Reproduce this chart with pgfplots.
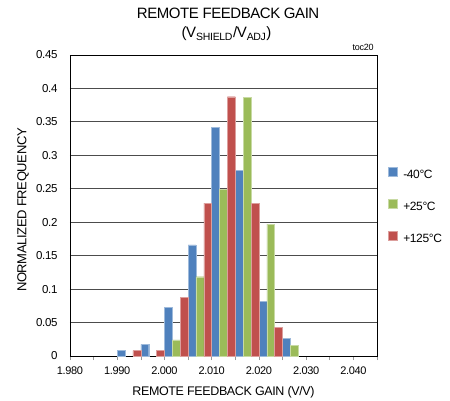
\documentclass[border=0pt]{standalone}
\usepackage{fontspec}
\setmainfont{Liberation Sans}[LetterSpace=-3]
\usepackage{pgfplots}
\pgfplotsset{compat=1.18}
\definecolor{cblue}{HTML}{4F81BD}
\definecolor{cgreen}{HTML}{9BBB59}
\definecolor{cred}{HTML}{C0504D}
\begin{document}
\begin{tikzpicture}
\useasboundingbox (-70pt,-44pt) rectangle (380pt,356pt);
\begin{axis}[
  at={(0pt,0pt)}, anchor=south west,
  scale only axis, width=307pt, height=301pt,
  xmin=0, xmax=13, ymin=0, ymax=0.45,
  axis line style={black, line width=0.9pt},
  xtick={0,...,13},
  xticklabels={1.980,,1.990,,2.000,,2.010,,2.020,,2.030,,2.040,},
  x tick label style={font=\fontsize{11}{13}\selectfont, yshift=-3pt},
  xtick pos=bottom, tick align=outside,
  x tick style={gray!80, line width=0.6pt},
  major tick length=4pt,
  ytick={0,0.05,...,0.45},
  y tick style={draw=none},
  y tick label style={/pgf/number format/fixed, /pgf/number format/precision=2, /pgf/number format/assume math mode=true, font=\fontsize{11.5}{13}\selectfont, xshift=-5pt},
  ymajorgrids,
  major grid style={gray!60!black, line width=0.8pt},
  xlabel={REMOTE FEEDBACK GAIN (V/V)},
  xlabel style={font=\fontsize{12.5}{14}\selectfont, at={(axis description cs:0.5,0)}, anchor=north, yshift=-27pt},
  ylabel={NORMALIZED FREQUENCY},
  ylabel style={font=\fontsize{13}{15}\selectfont, at={(axis description cs:-0.153,0.485)}, anchor=center},
  legend style={draw=none, fill=none, at={(axis description cs:1.025,0.635)}, anchor=north west,
    font=\fontsize{12}{14}\selectfont, row sep=17pt, cells={anchor=west},
    /tikz/every odd column/.append style={column sep=4pt}},
  legend image code/.code={\fill[#1] (0pt,-1pt) rectangle (9pt,8pt);},
  clip=false,
]
\addplot[ybar, bar width=0.3333, bar shift=0pt, fill=cblue, draw=cblue!55!white, line width=0.4pt]
  coordinates {(2.1667,0.0085) (3.1667,0.0175) (4.1667,0.0728) (5.1667,0.1660) (6.1667,0.3416) (7.1667,0.2772) (8.1667,0.0817) (9.1667,0.0266)};
\addlegendentry{-40°C}
\addplot[ybar, bar width=0.3333, bar shift=0pt, fill=cgreen, draw=cgreen!55!white, line width=0.4pt]
  coordinates {(4.5,0.0240) (5.5,0.1185) (6.5,0.2490) (7.5,0.3870) (8.5,0.1970) (9.5,0.0162)};
\addlegendentry{+25°C}
\addplot[ybar, bar width=0.3333, bar shift=0pt, fill=cred, draw=cred!55!white, line width=0.4pt]
  coordinates {(2.8333,0.0080) (3.8333,0.0084) (4.8333,0.0876) (5.8333,0.2286) (6.8333,0.3876) (7.8333,0.2286) (8.8333,0.0430)};
\addlegendentry{+125°C}
\node[font=\fontsize{15}{17}\selectfont, anchor=center] at (axis description cs:0.515,1.138) {REMOTE FEEDBACK GAIN};
\node[font=\fontsize{15}{17}\selectfont, anchor=center] at (axis description cs:0.51,1.07) {(V\textsubscript{SHIELD}/V\textsubscript{ADJ})};
\node[font=\fontsize{9}{11}\selectfont, anchor=center] at (axis description cs:0.955,1.025) {toc20};
\end{axis}
\end{tikzpicture}
\end{document}
